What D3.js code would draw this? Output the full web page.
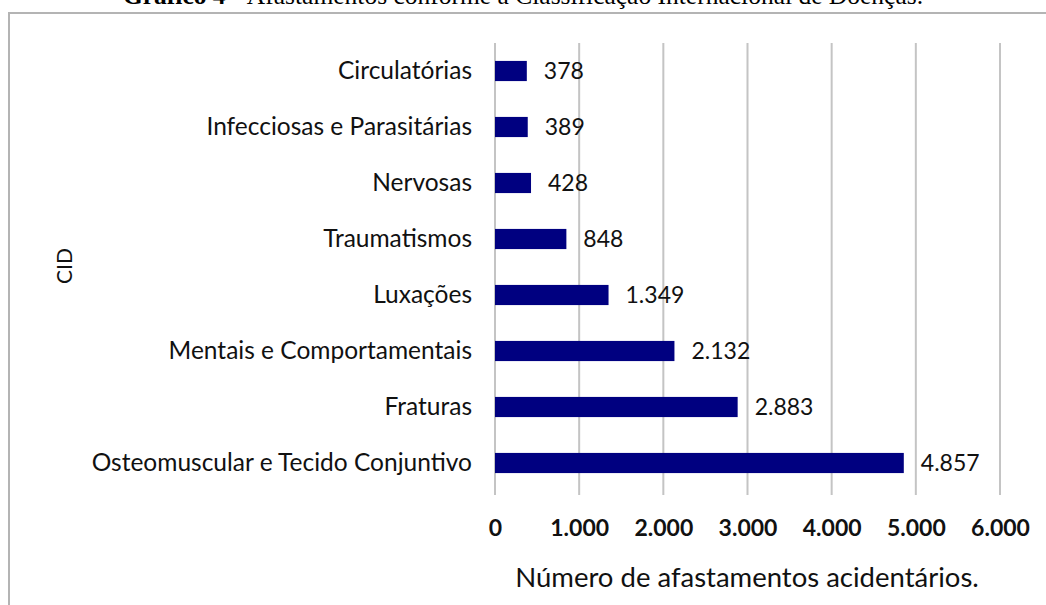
<!DOCTYPE html>
<html>
<head>
<meta charset="utf-8">
<script src="https://cdn.jsdelivr.net/npm/d3@7"></script>
<style>
  html, body { margin: 0; padding: 0; background: #fff; }
  svg { display: block; }
</style>
</head>
<body>
<div id="chart"></div>
<script>
// -- data ---------------------------------------------------------------
const categories = [
  'Circulatórias',
  'Infecciosas e Parasitárias',
  'Nervosas',
  'Traumatismos',
  'Luxações',
  'Mentais e Comportamentais',
  'Fraturas',
  'Osteomuscular e Tecido Conjuntivo'
];
const values = [378, 389, 428, 848, 1349, 2132, 2883, 4857];
const xTicks = [0, 1000, 2000, 3000, 4000, 5000, 6000];

const W = 1046, H = 605;
const FONT = 'Lato, "Open Sans", sans-serif';

// pt-BR thousands separator
const fmt = d3.formatLocale({ decimal: ',', thousands: '.', grouping: [3], currency: ['R$', ''] }).format(',d');

const svg = d3.select('#chart').append('svg')
  .attr('width', W)
  .attr('height', H);

// title, mostly cropped off the top of the picture
const title = svg.append('text')
  .attr('x', 523).attr('y', 4)
  .attr('text-anchor', 'middle')
  .style('font-family', '"Liberation Serif", "Times New Roman", serif')
  .style('font-size', '25.5px')
  .attr('fill', '#000');
title.append('tspan').style('font-weight', 'bold').text('Gráfico 4 - ');
title.append('tspan').text('Afastamentos conforme a Classificação Internacional de Doenças.');

// frame around the chart area (runs off right and bottom)
svg.append('rect')
  .attr('x', 9).attr('y', 13)
  .attr('width', W + 20).attr('height', H + 20)
  .attr('fill', 'none')
  .attr('stroke', '#b4b4b4')
  .attr('stroke-width', 2);

// -- scales -------------------------------------------------------------
const x = d3.scaleLinear().domain([0, 6000]).range([495, 1000]);
const y = d3.scaleBand().domain(categories).range([43, 491])
  .paddingInner(0.64).paddingOuter(0.32);

// vertical gridlines
svg.append('g')
  .selectAll('line')
  .data(xTicks)
  .join('line')
  .attr('x1', d => x(d)).attr('x2', d => x(d))
  .attr('y1', 43).attr('y2', 495)
  .attr('stroke', '#c4c4c4')
  .attr('stroke-width', 2);

// bars
svg.append('g')
  .selectAll('rect')
  .data(values)
  .join('rect')
  .attr('x', x(0))
  .attr('y', (d, i) => y(categories[i]))
  .attr('width', d => x(d) - x(0))
  .attr('height', y.bandwidth())
  .attr('fill', '#000080');

// value labels
svg.append('g')
  .selectAll('text')
  .data(values)
  .join('text')
  .attr('x', d => x(d) + 17)
  .attr('y', (d, i) => y(categories[i]) + y.bandwidth() / 2)
  .attr('dy', '0.36em')
  .style('font-family', FONT)
  .style('font-size', '23px')
  .attr('fill', '#111')
  .text(d => fmt(d));

// category labels (y axis)
const yAxis = d3.axisLeft(y).tickSize(0).tickPadding(23);
svg.append('g')
  .attr('transform', `translate(${x(0)},0)`)
  .call(yAxis)
  .call(g => g.select('.domain').remove())
  .call(g => g.selectAll('text')
    .style('font-family', FONT)
    .style('font-size', '24.5px')
    .attr('fill', '#111'));

// x tick labels
const xAxis = d3.axisBottom(x).tickValues(xTicks).tickSize(0).tickPadding(0)
  .tickFormat(d => fmt(d));
svg.append('g')
  .attr('transform', 'translate(0,528)')
  .call(xAxis)
  .call(g => g.select('.domain').remove())
  .call(g => g.selectAll('text')
    .attr('dy', '0.36em')
    .style('font-family', FONT)
    .style('font-size', '23px')
    .style('font-weight', 'bold')
    .attr('fill', '#111'));

// axis titles
svg.append('text')
  .attr('x', 747).attr('y', 577)
  .attr('dy', '0.36em')
  .attr('text-anchor', 'middle')
  .style('font-family', FONT)
  .style('font-size', '27.5px')
  .attr('fill', '#111')
  .text('Número  de afastamentos acidentários.');

svg.append('text')
  .attr('transform', 'translate(64,266) rotate(-90)')
  .attr('dy', '0.36em')
  .attr('text-anchor', 'middle')
  .style('font-family', FONT)
  .style('font-size', '21px')
  .attr('fill', '#111')
  .text('CID');
</script>
</body>
</html>
